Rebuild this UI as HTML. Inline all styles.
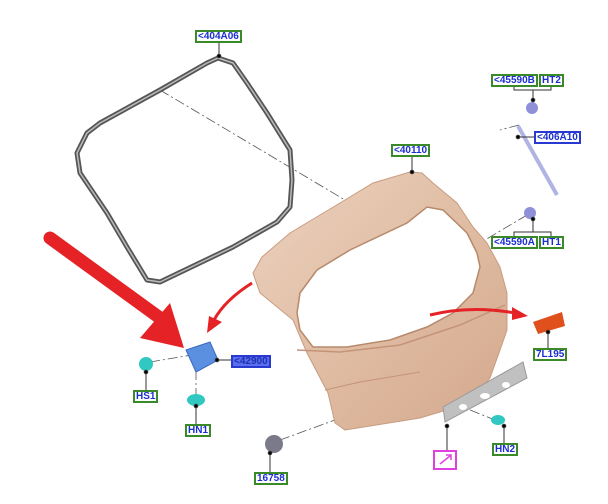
<!DOCTYPE html>
<html><head><meta charset="utf-8"><style>
html,body{margin:0;padding:0;background:#fff}
.l{position:absolute;font:bold 10px "Liberation Sans",sans-serif;color:#1a2fd0;border:2px solid #3a8a2a;background:#fff;line-height:9px;padding:0 1px;white-space:nowrap}
</style></head><body>
<div style="position:relative;width:608px;height:504px;overflow:hidden">
<svg width="608" height="504" style="position:absolute;left:0;top:0">
<defs>
<linearGradient id="tg" x1="0" y1="0" x2="1" y2="1">
<stop offset="0" stop-color="#ecd2bf"/><stop offset="0.5" stop-color="#e0bda4"/><stop offset="1" stop-color="#d4a88c"/>
</linearGradient>
</defs>
<g stroke="#555" stroke-width="0.8" stroke-dasharray="10,3,2,3" fill="none">
<line x1="160" y1="90" x2="345" y2="200"/>
<line x1="519" y1="125" x2="500" y2="130"/>
<line x1="527" y1="215" x2="485" y2="240"/>
<line x1="150" y1="362" x2="192" y2="355"/>
<line x1="196" y1="370" x2="196" y2="395"/>
<line x1="280" y1="440" x2="335" y2="420"/>
<line x1="420" y1="390" x2="495" y2="420"/>
</g>
<!-- gasket -->
<path d="M218,58 L233,63 L247,83 L267,113 L290,150 L292,180 L290,207 L277,222 L233,247 L160,282 L147,280 L127,247 L107,213 L80,173 L77,153 L87,133 L100,123 L160,90 L207,63 Z" fill="none" stroke="#555" stroke-width="5" stroke-linejoin="round"/>
<path d="M218,58 L233,63 L247,83 L267,113 L290,150 L292,180 L290,207 L277,222 L233,247 L160,282 L147,280 L127,247 L107,213 L80,173 L77,153 L87,133 L100,123 L160,90 L207,63 Z" fill="none" stroke="#bbb" stroke-width="1.5" stroke-linejoin="round"/>
<!-- tailgate -->
<path fill-rule="evenodd" fill="url(#tg)" stroke="#c79c80" stroke-width="1" d="M410,172 L422,173 L433,183 L457,203 L473,227 L487,243 L500,267 L507,293 L507,330 L500,350 L490,378 L470,403 L420,418 L345,430 L335,423 L328,393 L307,353 L293,320 L260,293 L253,273 L262,257 L290,233 L340,203 L373,183 Z
M300,293 L317,270 L350,250 L407,223 L427,207 L443,210 L467,233 L477,253 L480,267 L473,293 L453,313 L427,327 L390,340 L347,347 L313,347 L300,330 L297,313 Z"/>
<path d="M300,293 L317,270 L350,250 L407,223 L427,207 L443,210 L467,233 L477,253 L480,267 L473,293 L453,313 L427,327 L390,340 L347,347 L313,347 L300,330 L297,313 Z" fill="none" stroke="#b88a6c" stroke-width="1.5"/>
<path d="M297,350 L340,352 L400,345 L460,325 L505,305" stroke="#c49478" stroke-width="1.5" fill="none"/>
<path d="M325,390 L360,382 L420,372" stroke="#c49478" stroke-width="1" fill="none"/>
<!-- license plate bracket -->
<polygon points="443,407 523,362 527,378 445,422" fill="#c0c0c0" stroke="#999"/>
<ellipse cx="463" cy="407" rx="4" ry="3" fill="#fff"/><ellipse cx="485" cy="396" rx="5" ry="3" fill="#fff"/><ellipse cx="506" cy="385" rx="4" ry="3" fill="#fff"/>
<!-- strut -->
<line x1="518" y1="126" x2="557" y2="195" stroke="#b0b4e4" stroke-width="4"/>
<circle cx="532" cy="108" r="6" fill="#8f90d8"/><circle cx="530" cy="213" r="6" fill="#8f90d8"/>
<!-- parts -->
<polygon points="186,350 210,342 218,360 196,372" fill="#5b8fe0" stroke="#3a6ac0"/>
<circle cx="146" cy="364" r="7" fill="#30c8c0"/>
<ellipse cx="196" cy="400" rx="9" ry="6" fill="#30c8c0"/>
<circle cx="274" cy="444" r="9" fill="#7a7a8a"/>
<polygon points="533,322 562,312 565,326 538,334" fill="#e0501c"/>
<ellipse cx="498" cy="420" rx="7" ry="5" fill="#30c8c0"/>
<g stroke="#333" stroke-width="1" fill="#000">
<line x1="219" y1="41" x2="219" y2="56"/><circle cx="219" cy="56" r="1.8"/>
<line x1="412" y1="154" x2="412" y2="172"/><circle cx="412" cy="172" r="1.8"/>
<path d="M514,85 V90 H533 V100 M551,85 V90 H533" fill="none"/><circle cx="533" cy="100" r="1.8"/>
<line x1="518" y1="137" x2="535" y2="137"/><circle cx="518" cy="137" r="1.8"/>
<path d="M514,236 V232 H533 V219 M551,236 V232 H533" fill="none"/><circle cx="533" cy="219" r="1.8"/>
<line x1="217" y1="360" x2="231" y2="360"/><circle cx="217" cy="360" r="1.8"/>
<line x1="146" y1="372" x2="146" y2="390"/><circle cx="146" cy="372" r="1.8"/>
<line x1="196" y1="406" x2="196" y2="424"/><circle cx="196" cy="406" r="1.8"/>
<line x1="270" y1="453" x2="270" y2="472"/><circle cx="270" cy="453" r="1.8"/>
<line x1="548" y1="332" x2="548" y2="348"/><circle cx="548" cy="332" r="1.8"/>
<line x1="504" y1="426" x2="504" y2="443"/><circle cx="504" cy="426" r="1.8"/>
<line x1="447" y1="426" x2="447" y2="450"/><circle cx="447" cy="426" r="1.8"/>
</g>
<line x1="50" y1="238" x2="160" y2="318" stroke="#e52226" stroke-width="13" stroke-linecap="round"/>
<polygon points="170,303 140,338 184,348" fill="#e52226"/>
<path d="M252,283 Q225,300 214,320" stroke="#e52226" stroke-width="3" fill="none"/>
<polygon points="207,333 209,316 222,322" fill="#e52226"/>
<path d="M430,315 Q470,305 515,313" stroke="#e52226" stroke-width="3" fill="none"/>
<polygon points="528,316 512,307 512,320" fill="#e52226"/>
<rect x="434" y="451" width="22" height="18" fill="#fff" stroke="#e040e0" stroke-width="2"/>
<path d="M440,464 L450,456 M446,455 L451,455 L451,460" stroke="#e040e0" stroke-width="1.5" fill="none"/>
</svg>
<div class="l" style="left:195px;top:30px">&lt;404A06</div>
<div class="l" style="left:391px;top:144px">&lt;40110</div>
<div class="l" style="left:491px;top:74px">&lt;45590B</div><div class="l" style="left:539px;top:74px">HT2</div>
<div class="l" style="left:534px;top:131px;border-color:#2a3ad0">&lt;406A10</div>
<div class="l" style="left:491px;top:236px">&lt;45590A</div><div class="l" style="left:539px;top:236px">HT1</div>
<div class="l" style="left:231px;top:355px;background:#5a6ef0;border-color:#2a3ad0;color:#2030b0">&lt;42900</div>
<div class="l" style="left:133px;top:390px">HS1</div>
<div class="l" style="left:185px;top:424px">HN1</div>
<div class="l" style="left:254px;top:472px">16758</div>
<div class="l" style="left:533px;top:348px">7L195</div>
<div class="l" style="left:492px;top:443px">HN2</div>
</div>
</body></html>
